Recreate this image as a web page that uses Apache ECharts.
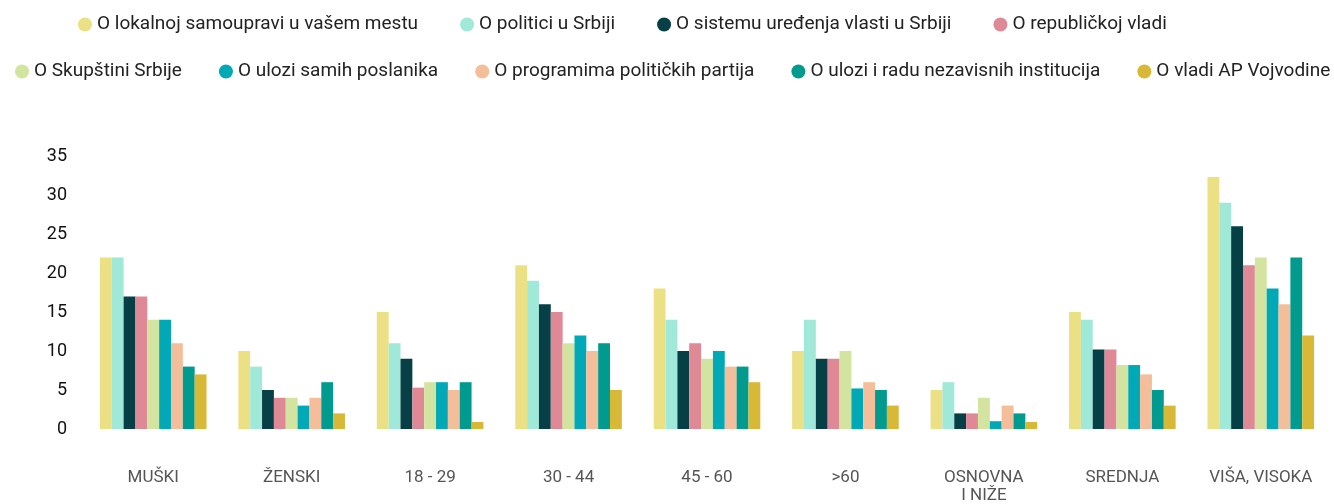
<!DOCTYPE html>
<html>
<head>
<meta charset="utf-8">
<script src="https://cdn.jsdelivr.net/npm/echarts@6/dist/echarts.min.js"></script>
<style>
  html, body { margin: 0; padding: 0; background: #fff; }
  #main { width: 1334px; height: 504px; }
</style>
</head>
<body>
<div id="main"></div>
<script>
var categories = ['MUŠKI', 'ŽENSKI', '18 - 29', '30 - 44', '45 - 60', '>60', 'OSNOVNA\nI NIŽE', 'SREDNJA', 'VIŠA, VISOKA'];

var seriesNames = [
  'O lokalnoj samoupravi u vašem mestu',
  'O politici u Srbiji',
  'O sistemu uređenja vlasti u Srbiji',
  'O republičkoj vladi',
  'O Skupštini Srbije',
  'O ulozi samih poslanika',
  'O programima političkih partija',
  'O ulozi i radu nezavisnih institucija',
  'O vladi AP Vojvodine'
];

var lokalna     = [22, 10, 15, 21, 18, 10, 5, 15, 32.3];
var politika    = [22, 8, 11, 19, 14, 14, 6, 14, 29];
var sistem      = [17, 5, 9, 16, 10, 9, 2, 10.2, 26];
var republicka  = [17, 4, 5.3, 15, 11, 9, 2, 10.2, 21];
var skupstina   = [14, 4, 6, 11, 9, 10, 4, 8.2, 22];
var poslanici   = [14, 3, 6, 12, 10, 5.2, 1, 8.2, 18];
var programi    = [11, 4, 5, 10, 8, 6, 3, 7, 16];
var institucije = [8, 6, 6, 11, 8, 5, 2, 5, 22];
var vojvodina   = [7, 2, 0.9, 5, 6, 3, 0.9, 3, 12];

var values = [lokalna, politika, sistem, republicka, skupstina, poslanici, programi, institucije, vojvodina];
var colors = ['#ECE085', '#A0E8D8', '#063F45', '#DF8896', '#D2E4A0', '#00A9B5', '#F5BE9A', '#009A8E', '#D7B937'];

var font = 'Roboto';

var chart = echarts.init(document.getElementById('main'));

var series = seriesNames.map(function (name, i) {
  return {
    name: name,
    type: 'bar',
    data: values[i],
    barGap: 0,
    barCategoryGap: '23%',
    itemStyle: { color: colors[i] }
  };
});

var legendText = { fontFamily: font, fontSize: 19, color: '#222' };

chart.setOption({
  animation: false,
  legend: [
    {
      data: seriesNames.slice(0, 4),
      left: 73, top: 10,
      icon: 'circle', itemWidth: 14, itemHeight: 14, itemGap: 42,
      textStyle: legendText
    },
    {
      data: seriesNames.slice(4),
      left: 10, top: 57, width: 1324,
      icon: 'circle', itemWidth: 14, itemHeight: 14, itemGap: 37,
      textStyle: legendText
    }
  ],
  grid: { left: 84, right: 4, top: 156, bottom: 75, containLabel: false, outerBoundsMode: 'none' },
  xAxis: {
    type: 'category',
    data: categories,
    axisLine: { show: false },
    axisTick: { show: false },
    axisLabel: { margin: 40, fontFamily: font, fontSize: 17, color: '#555', lineHeight: 18, interval: 0 }
  },
  yAxis: {
    type: 'value',
    min: 0, max: 35, interval: 5,
    splitLine: { show: false },
    axisLine: { show: false },
    axisTick: { show: false },
    axisLabel: { margin: 17, fontFamily: font, fontSize: 18, color: '#111' }
  },
  series: series
});
</script>
</body>
</html>
